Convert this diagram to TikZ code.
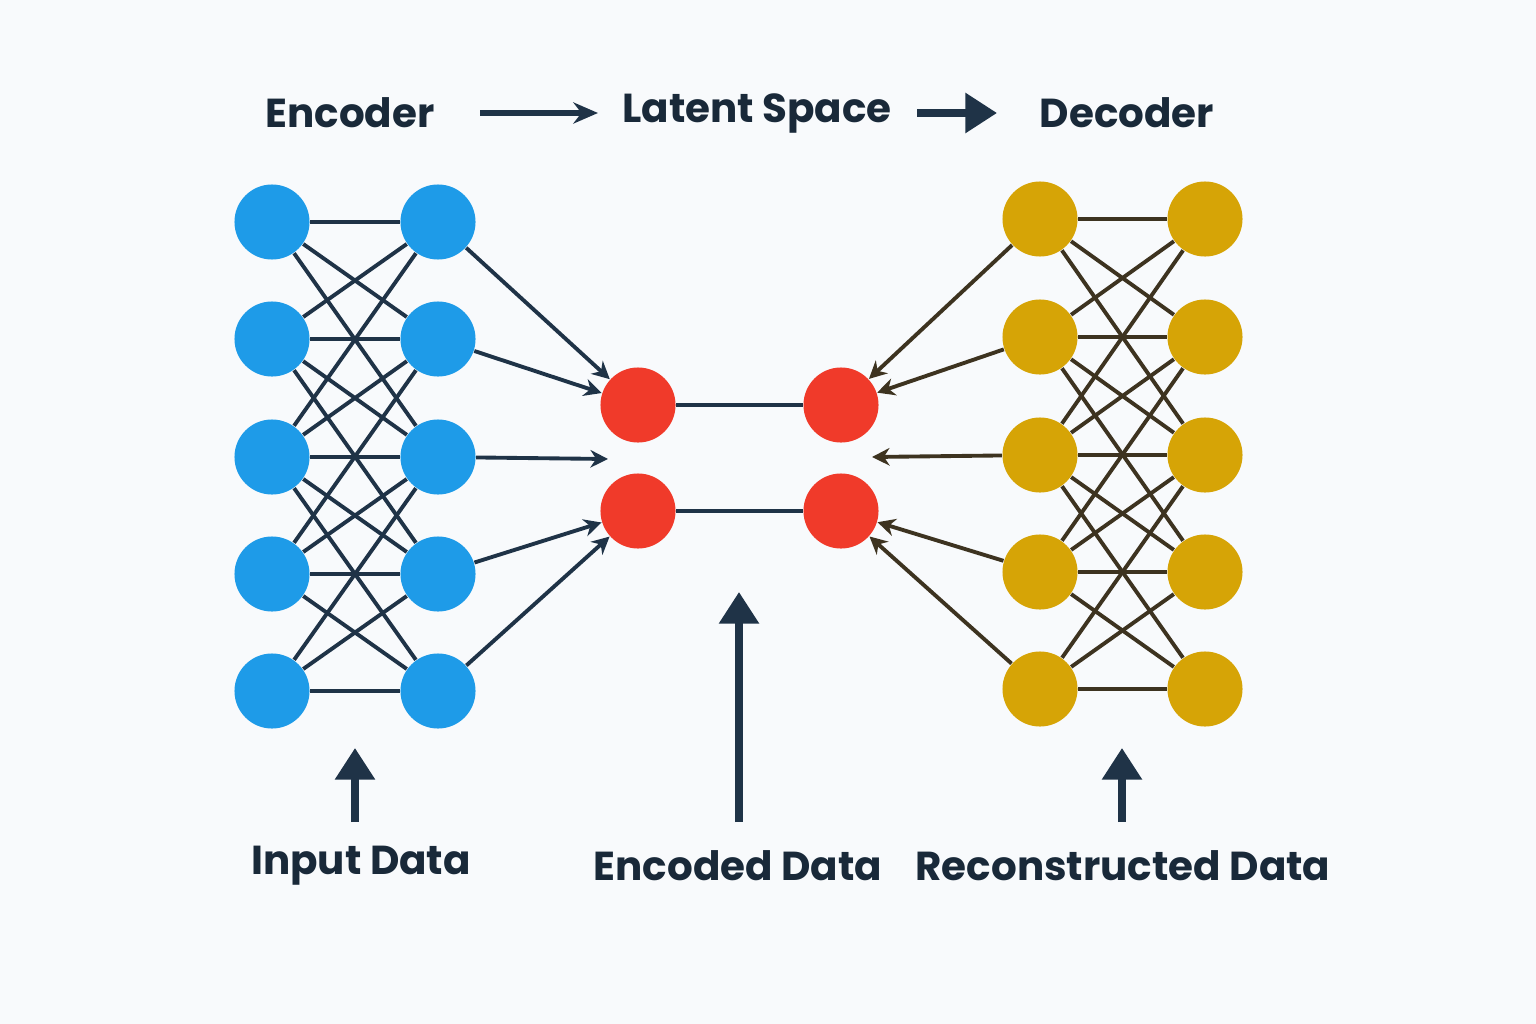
\documentclass[tikz,border=0pt]{standalone}
\usepackage{fontspec}
\setmainfont{Poppins}
\usetikzlibrary{arrows.meta}
\definecolor{encblue}{HTML}{1E9BE8}
\definecolor{latred}{HTML}{F03A2A}
\definecolor{decgold}{HTML}{D6A406}
\definecolor{navy}{HTML}{1F3347}
\definecolor{brownline}{HTML}{3D3320}
\definecolor{paper}{HTML}{F8FAFC}
\begin{document}
\begin{tikzpicture}[x=0.01cm,y=-0.01cm,
  neuron/.style={circle, minimum size=0.75cm, inner sep=0pt},
  enc/.style={neuron, fill=encblue},
  lat/.style={neuron, fill=latred},
  dec/.style={neuron, fill=decgold},
  title/.style={font=\bfseries\fontsize{11.5}{14}\selectfont, text=navy!80!black},
  wire/.style={navy, line width=1.1pt},
  dwire/.style={brownline, line width=1.1pt},
  tip/.style={-{Stealth[length=5pt,width=5pt]}},
  bigtip/.style={-{Triangle[length=9pt,width=11pt]}, line width=2pt, navy}]
  \useasboundingbox (0,0) rectangle (1536,1024);
  \fill[paper] (0,0) rectangle (1536,1024);
  % titles
  \node[title] (ENC) at (350,113) {Encoder};
  \node[title] (LS) at (757,113) {Latent Space};
  \node[title] (DEC) at (1127,113) {Decoder};
  \coordinate (a1) at (480,113);
  \coordinate (a2) at (598,113);
  \coordinate (a3) at (917,113);
  \coordinate (a4) at (997,113);
  \draw[navy, line width=1.5pt, -{Stealth[length=7pt,width=6pt]}] (a1) -- (a2);
  \draw[bigtip] (a3) -- (a4);
  % layers
  \foreach \i/\y in {1/222,2/339,3/457,4/574,5/691} {
    \node[enc] (I\i) at (272,\y) {};
    \node[enc] (H\i) at (438,\y) {};
  }
  \foreach \i/\y in {1/219,2/337,3/455,4/572,5/689} {
    \node[dec] (D\i) at (1040,\y) {};
    \node[dec] (O\i) at (1205,\y) {};
  }
  \node[lat] (L1) at (638,405) {};
  \node[lat] (L2) at (638,511) {};
  \node[lat] (R1) at (841,405) {};
  \node[lat] (R2) at (841,511) {};
  \coordinate (LM) at (608,459);
  \coordinate (RM) at (872,457);
  % encoder and decoder wires
  \foreach \i in {1,...,5}
    \foreach \j in {1,...,5} {
      \pgfmathtruncatemacro{\d}{abs(\i-\j)}
      \ifnum\d<3
        \draw[wire] (I\i) -- (H\j);
        \draw[dwire] (D\i) -- (O\j);
      \fi
    }
  \draw[wire, tip] (H1) -- (L1);
  \draw[wire, tip] (H2) -- (L1);
  \draw[wire, tip] (H3) -- (LM);
  \draw[wire, tip] (H4) -- (L2);
  \draw[wire, tip] (H5) -- (L2);
  \draw[dwire, tip] (D1) -- (R1);
  \draw[dwire, tip] (D2) -- (R1);
  \draw[dwire, tip] (D3) -- (RM);
  \draw[dwire, tip] (D4) -- (R2);
  \draw[dwire, tip] (D5) -- (R2);
  \draw[wire] (L1) -- (R1);
  \draw[wire] (L2) -- (R2);
  % bottom labels
  \node[title] (IN) at (361,866) {Input Data};
  \node[title] (ED) at (738,866) {Encoded Data};
  \node[title] (RD) at (1123,866) {Reconstructed Data};
  \coordinate (b1) at (355,822);
  \coordinate (t1) at (355,748);
  \coordinate (b2) at (739,822);
  \coordinate (t2) at (739,592);
  \coordinate (b3) at (1122,822);
  \coordinate (t3) at (1122,748);
  \draw[bigtip] (b1) -- (t1);
  \draw[bigtip] (b2) -- (t2);
  \draw[bigtip] (b3) -- (t3);
\end{tikzpicture}
\end{document}
